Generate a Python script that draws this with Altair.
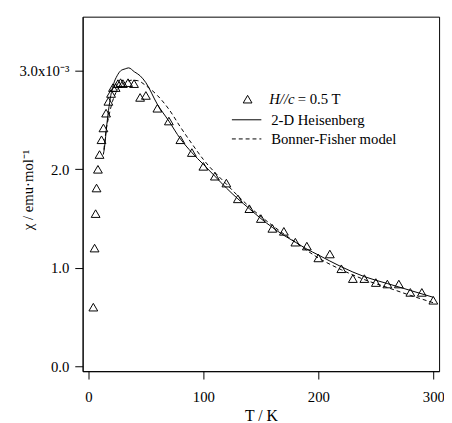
import altair as alt
import pandas as pd

# Measured data: H//c = 0.5 T (chi in units of 1e-3 emu/mol)
T_meas = [4.3, 5.4, 6.3, 7.1, 8.3, 9.7, 11.4, 13.1, 15.4, 17.4, 19.7, 21.4, 23.7, 25.7,
          28, 30, 34.5, 39.7, 45, 50, 60, 70, 80, 90, 100, 110, 120, 130, 140, 150,
          160, 170, 180, 190, 200, 210, 220, 230, 240, 250, 260, 270, 280, 290, 300]
chi_meas = [0.60, 1.20, 1.55, 1.81, 2.00, 2.15, 2.30, 2.42, 2.57, 2.69, 2.77, 2.83, 2.83, 2.87,
            2.88, 2.87, 2.88, 2.87, 2.73, 2.75, 2.62, 2.49, 2.30, 2.17, 2.03, 1.93, 1.86, 1.70,
            1.60, 1.50, 1.40, 1.37, 1.26, 1.22, 1.10, 1.14, 0.99, 0.89, 0.89, 0.85, 0.835,
            0.835, 0.75, 0.75, 0.67]

# 2-D Heisenberg fit
T_heis = [13, 14, 16, 18, 20, 22, 25, 28, 32, 35, 40, 45, 50, 60, 70, 80, 90, 100, 110, 120,
          130, 140, 150, 160, 170, 180, 190, 200, 220, 240, 260, 280, 300]
chi_heis = [2.15, 2.22, 2.45, 2.64, 2.78, 2.87, 2.95, 3.00, 3.02, 3.03, 2.99, 2.95, 2.88, 2.66,
            2.49, 2.31, 2.17, 2.05, 1.93, 1.81, 1.70, 1.60, 1.50, 1.41, 1.33, 1.26, 1.19, 1.13,
            1.01, 0.91, 0.84, 0.77, 0.70]

# Bonner-Fisher model
T_bf = [13.5, 15, 18, 21, 24, 28, 33, 38, 43, 50, 60, 70, 80, 90, 100, 120, 140, 160, 180,
        200, 220, 240, 260, 280, 300]
chi_bf = [2.20, 2.36, 2.55, 2.69, 2.78, 2.85, 2.89, 2.905, 2.90, 2.85, 2.75, 2.61, 2.43, 2.26,
          2.10, 1.85, 1.62, 1.43, 1.26, 1.10, 0.98, 0.88, 0.80, 0.72, 0.645]

x_ticks = [0, 100, 200, 300]
y_ticks = [0, 1, 2, 3]

FONT = "Liberation Serif"

meas_df = pd.DataFrame({"T": T_meas, "chi": chi_meas})
heis_df = pd.DataFrame({"T": T_heis, "chi": chi_heis})
bf_df = pd.DataFrame({"T": T_bf, "chi": chi_bf})
one = pd.DataFrame({"a": [0]})

xs = alt.Scale(domain=[-5, 305], nice=False, zero=False)
ys = alt.Scale(domain=[-0.05, 3.55], nice=False, zero=False)

x_enc = alt.X("T:Q", scale=xs, axis=alt.Axis(
    values=x_ticks, title="T / K", titleY=45, titleBaseline="middle", labelPadding=11))
y_enc = alt.Y("chi:Q", scale=ys, axis=alt.Axis(
    values=y_ticks, title="χ / emu·mol⁻¹", titleX=-56, titleY=176, titleFontSize=15,
    titleBaseline="middle", titleAngle=-90, labelPadding=6,
    labelExpr="datum.value == 3 ? '3.0x10⁻³' : format(datum.value, '.1f')"))

pts = alt.Chart(meas_df).mark_point(
    shape="triangle-up", filled=False, color="black", size=80, strokeWidth=1, opacity=1
).encode(x=x_enc, y=y_enc)

heis = alt.Chart(heis_df).mark_line(color="black", strokeWidth=1, interpolate="monotone").encode(
    x="T:Q", y="chi:Q")
bf = alt.Chart(bf_df).mark_line(color="black", strokeWidth=1, strokeDash=[4, 3],
                                interpolate="monotone").encode(x="T:Q", y="chi:Q")

# Legend (inside the plot, top right)
leg_pt = alt.Chart(one).mark_point(shape="triangle-up", filled=False, color="black",
                                   size=80, strokeWidth=1, opacity=1).encode(
    x=alt.value(168), y=alt.value(84))
leg_l1 = alt.Chart(one).mark_rule(color="black", strokeWidth=1).encode(
    x=alt.value(152), x2=alt.value(182), y=alt.value(105))
leg_l2 = alt.Chart(one).mark_rule(color="black", strokeWidth=1, strokeDash=[4, 3]).encode(
    x=alt.value(152), x2=alt.value(182), y=alt.value(124.5))
tkw = dict(align="left", baseline="middle", font=FONT, fontSize=15, color="black")
leg_t1a = alt.Chart(one).mark_text(fontStyle="italic", **tkw).encode(
    x=alt.value(190), y=alt.value(84), text=alt.value("H//c"))
leg_t1b = alt.Chart(one).mark_text(**tkw).encode(
    x=alt.value(219), y=alt.value(84), text=alt.value("= 0.5 T"))
leg_t2 = alt.Chart(one).mark_text(**tkw).encode(
    x=alt.value(192), y=alt.value(105), text=alt.value("2-D Heisenberg"))
leg_t3 = alt.Chart(one).mark_text(**tkw).encode(
    x=alt.value(192), y=alt.value(124.5), text=alt.value("Bonner-Fisher model"))

chart = alt.layer(
    pts, heis, bf, leg_pt, leg_l1, leg_l2, leg_t1a, leg_t1b, leg_t2, leg_t3
).properties(
    width=363, height=361,
    autosize=alt.AutoSizeParams(type="none"),
    padding={"left": 76, "top": 5, "right": 5, "bottom": 52},
    background="white",
).configure_view(
    stroke="black", strokeWidth=1
).configure_axis(
    grid=False, domainColor="black", tickColor="black", tickSize=8, tickWidth=1,
    labelColor="black", labelFont=FONT, labelFontSize=15,
    titleColor="black", titleFont=FONT, titleFontSize=16, titleFontWeight="normal",
    labelFlush=False
)

chart.save("out.html", embed_options={"renderer": "svg", "actions": False})
